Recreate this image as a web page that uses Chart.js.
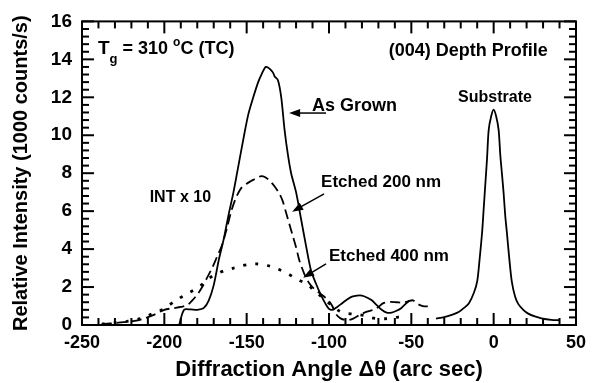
<!DOCTYPE html>
<html><head><meta charset="utf-8">
<script src="https://cdn.jsdelivr.net/npm/chart.js@4/dist/chart.umd.min.js"></script>
<style>html,body{margin:0;padding:0;background:#fff}canvas{display:block}</style>
</head><body>
<canvas id="c" width="593" height="383"></canvas>
<script>
// ---- data ----
const asGrownAngle = [-191,-188,-184,-180,-176,-173,-170,-167,-164,-161,-158,-155,-152,-149,-146,-143,-141,-139,-138,-136,-134,-133,-131,-129,-127,-125,-123,-120,-117,-114,-111,-108,-105,-102,-100,-98,-95,-92,-89,-86,-83,-80,-77,-74,-71,-68,-65,-62,-59,-56,-53,-51];
const asGrownInt   = [0,0.8,0.82,0.8,0.9,1.3,2.1,3.4,4.5,5.8,7.0,8.4,9.8,11.1,12.0,12.8,13.2,13.55,13.6,13.5,13.3,13.1,12.9,12.0,10.3,9.0,8.0,7.0,5.6,4.2,2.9,2.2,1.6,1.1,0.85,0.8,0.95,1.15,1.35,1.5,1.55,1.55,1.45,1.3,1.05,0.8,0.65,0.65,0.75,0.9,1.15,1.3];

const etch200Angle = [-238,-228,-218,-212,-206,-200,-195,-190,-186,-183,-180,-177,-174,-171,-168,-165,-162,-159,-156,-153,-150,-147,-144,-141,-139,-136,-133,-130,-128,-126,-124,-122,-120,-118,-115,-112,-109,-106,-103,-100,-98,-96,-93,-89,-85,-81,-77,-73,-70,-67,-63,-59,-55,-52,-49,-46,-43,-40];
const etch200Int   = [0.05,0.12,0.22,0.35,0.55,0.8,0.88,0.95,1.05,1.3,1.6,2.0,2.5,3.0,3.6,4.2,5.1,6.1,6.8,7.25,7.45,7.6,7.75,7.85,7.8,7.6,7.3,6.9,6.5,5.9,5.3,4.7,4.1,3.4,2.7,2.2,1.9,1.7,1.5,1.25,1.0,0.6,0.35,0.25,0.35,0.55,0.7,0.8,0.95,1.15,1.22,1.2,1.18,1.25,1.3,1.1,1.0,0.98];

const etch400Angle = [-238,-230,-222,-214,-207,-200,-193,-186,-179,-173,-168,-163,-158,-153,-148,-144,-140,-136,-131,-126,-122,-118,-114,-110,-106,-102,-98,-94,-90,-86,-82,-78,-74,-70,-66,-62,-58,-55];
const etch400Int   = [0.05,0.12,0.2,0.35,0.6,0.87,1.3,1.65,2.0,2.45,2.7,2.88,3.0,3.12,3.2,3.22,3.18,3.1,2.95,2.75,2.55,2.35,2.2,1.9,1.6,1.3,1.0,0.75,0.62,0.58,0.55,0.48,0.38,0.33,0.33,0.36,0.42,0.45];

const substrateAngle = [-35,-30,-25,-21,-18,-15,-12,-10,-8.5,-7,-6,-5,-4,-3,-1.5,0,1.5,3,4,5,6,7,8,9.5,11,13,15,18,21,25,29,35,40];
const substrateInt   = [0.33,0.42,0.55,0.7,0.9,1.15,1.7,2.3,3.5,4.9,6.2,7.5,8.8,10.3,11.0,11.35,11.0,10.3,9.0,8.0,7.0,5.8,4.9,3.5,2.3,1.5,1.1,0.8,0.6,0.45,0.35,0.27,0.25];

const xTickValues = [-250,-200,-150,-100,-50,0,50];
const yTickValues = [0,2,4,6,8,10,12,14,16];
const xMinorStep = 10;
const yMinorStep = 0.4;

const xTitle = 'Diffraction Angle \u0394\u03b8 (arc sec)';
const yTitle = 'Relative Intensity (1000 counts/s)';

// ---- helpers ----
const FONT = "'Liberation Sans', Arial, Helvetica, sans-serif";
Chart.defaults.font.family = FONT;
Chart.defaults.color = '#000';
const pts = (xs, ys) => xs.map((v, i) => ({x: v, y: ys[i]}));

const base = {fill:false, pointRadius:0, borderColor:'#000', tension:0.3, borderJoinStyle:'round'};

const deco = {
  id: 'deco',
  afterDraw(chart) {
    const ctx = chart.ctx;
    const a = chart.chartArea;
    const x = chart.scales.x, y = chart.scales.y;
    ctx.save();
    ctx.setLineDash([]);
    ctx.strokeStyle = '#000';
    ctx.fillStyle = '#000';
    // frame
    ctx.lineWidth = 2;
    ctx.strokeRect(a.left, a.top, a.right - a.left, a.bottom - a.top);
    // inward ticks on all four sides
    const nx = Math.round((x.max - x.min) / xMinorStep);
    for (let i = 0; i <= nx; i++) {
      const px = x.getPixelForValue(x.min + i * xMinorStep);
      const L = (i % 5 === 0) ? 12 : 7;
      ctx.fillRect(px - 1, a.bottom - L, 2, L);
      ctx.fillRect(px - 1, a.top, 2, L);
    }
    const ny = Math.round((y.max - y.min) / yMinorStep);
    for (let i = 0; i <= ny; i++) {
      const py = y.getPixelForValue(y.min + i * yMinorStep);
      const L = (i % 5 === 0) ? 12 : 7;
      ctx.fillRect(a.left, py - 1, L, 2);
      ctx.fillRect(a.right - L, py - 1, L, 2);
    }

    const X = v => x.getPixelForValue(v), Y = v => y.getPixelForValue(v);
    const text = (s, xv, yv, size) => {
      ctx.font = 'bold ' + size + 'px ' + FONT;
      ctx.textBaseline = 'alphabetic';
      ctx.textAlign = 'left';
      ctx.fillText(s, X(xv), Y(yv));
    };
    const arrow = (x0, y0, x1, y1) => {
      const ax = X(x0), ay = Y(y0), bx = X(x1), by = Y(y1);
      const ang = Math.atan2(by - ay, bx - ax);
      const hl = 11, hw = 4;
      ctx.lineWidth = 1.5;
      ctx.beginPath(); ctx.moveTo(ax, ay);
      ctx.lineTo(bx - Math.cos(ang) * hl * 0.8, by - Math.sin(ang) * hl * 0.8); ctx.stroke();
      ctx.beginPath();
      ctx.moveTo(bx, by);
      ctx.lineTo(bx - hl * Math.cos(ang) + hw * Math.sin(ang), by - hl * Math.sin(ang) - hw * Math.cos(ang));
      ctx.lineTo(bx - hl * Math.cos(ang) - hw * Math.sin(ang), by - hl * Math.sin(ang) + hw * Math.cos(ang));
      ctx.closePath(); ctx.fill();
    };

    // T_g = 310 °C (TC)
    {
      let px = X(-240.3); const py = Y(14.29);
      ctx.textBaseline = 'alphabetic'; ctx.textAlign = 'left';
      const seg = (s, size, dy) => {
        ctx.font = 'bold ' + size + 'px ' + FONT;
        ctx.fillText(s, px, py + dy);
        px += ctx.measureText(s).width;
      };
      seg('T', 19, 0);
      seg('g', 13, 9);
      seg(' = 310 ', 18, 0);
      seg('o', 12, -8);
      seg('C (TC)', 18, 0);
    }
    text('(004) Depth Profile', -63.7, 14.18, 18);
    text('Substrate', -21.6, 11.74, 16);
    text('As Grown', -110.3, 11.3, 18);
    text('Etched 200 nm', -104.8, 7.27, 17);
    text('Etched 400 nm', -100.0, 3.38, 17);
    text('INT x 10', -208.9, 6.49, 16);

    arrow(-101.8, 11.17, -124.2, 11.17);
    arrow(-103.0, 6.91, -122.4, 5.97);
    arrow(-101.8, 3.22, -115.7, 2.49);
    ctx.restore();
  }
};

new Chart(document.getElementById('c'), {
  type: 'line',
  data: {
    datasets: [
      {...base, label: 'As Grown', data: pts(asGrownAngle, asGrownInt), borderWidth: 1.8},
      {...base, label: 'Substrate', data: pts(substrateAngle, substrateInt), borderWidth: 1.8},
      {...base, label: 'Etched 200 nm', data: pts(etch200Angle, etch200Int), borderWidth: 1.8, borderDash: [10, 5]},
      {...base, label: 'Etched 400 nm', data: pts(etch400Angle, etch400Int), borderWidth: 2.8, borderDash: [3, 9]}
    ]
  },
  options: {
    responsive: false,
    animation: false,
    events: [],
    layout: {padding: {top: 17, right: 15, left: 0, bottom: 0}},
    plugins: {legend: {display: false}, tooltip: {enabled: false}},
    scales: {
      x: {
        type: 'linear', min: -250, max: 50,
        afterBuildTicks: s => { s.ticks = xTickValues.map(v => ({value: v})); },
        afterFit: s => { s.height = 58; },
        grid: {display: false, drawTicks: false},
        border: {display: false},
        ticks: {font: {size: 18, weight: 'bold'}, color: '#000', padding: 7, maxRotation: 0, autoSkip: false},
        title: {display: true, text: xTitle, font: {size: 22, weight: 'bold'}, color: '#000', padding: {top: 0, bottom: 0}}
      },
      y: {
        type: 'linear', min: 0, max: 16,
        afterBuildTicks: s => { s.ticks = yTickValues.map(v => ({value: v})); },
        afterFit: s => { s.width = 82; },
        grid: {display: false, drawTicks: false},
        border: {display: false},
        ticks: {font: {size: 19, weight: 'bold'}, color: '#000', padding: 10, autoSkip: false},
        title: {display: true, text: yTitle, font: {size: 20, weight: 'bold'}, color: '#000', padding: {top: 9, bottom: 0}}
      }
    }
  },
  plugins: [deco]
});
</script>
</body></html>
